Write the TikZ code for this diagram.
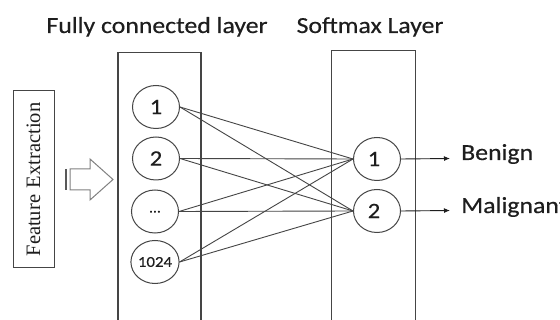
\documentclass[tikz,border=0pt]{standalone}
\usepackage{fontspec}
\setmainfont[FakeStretch=1.12,FakeBold=0.4]{Carlito}
\newfontfamily\serifface{Liberation Serif}
\usetikzlibrary{shapes.geometric,arrows.meta}
\definecolor{ink}{HTML}{1E1E1E}
\definecolor{linec}{HTML}{454545}
\tikzset{
  layerbox/.style={draw=linec, line width=1.2pt},
  neuron/.style={ellipse, draw=linec, line width=1pt, minimum width=47pt, minimum height=43pt, inner sep=0pt, text=ink, font=\fontsize{22}{24}\selectfont},
  smallneuron/.style={neuron, font=\fontsize{15}{17}\selectfont},
  link/.style={draw=linec, line width=0.9pt},
  outarrow/.style={draw=ink, line width=0.9pt, -{Latex[length=6pt,width=5pt]}},
  title/.style={anchor=base, text=ink, font=\fontsize{23}{25}\selectfont},
  label/.style={anchor=base west, text=ink, font=\fontsize{23}{25}\selectfont, inner sep=0pt},
}
\begin{document}
\begin{tikzpicture}[x=1pt,y=-1pt]
\useasboundingbox (0,0) rectangle (560,320);
\fill[white] (0,0) rectangle (560,320);
% titles
\node[title] (t1) at (157,33) {Fully connected layer};
\node[title] (t2) at (370,33) {Softmax Layer};
% layer boxes
\draw[layerbox] (118,330) -- (118,52.5) -- (201,52.5) -- (201,330);
\draw[layerbox] (331.5,330) -- (331.5,50.7) -- (415.5,50.7) -- (415.5,330);
% feature extraction
\node[draw=linec, line width=1pt, rotate=90, minimum width=177pt, minimum height=41pt, inner sep=0pt, text=ink, font=\serifface\fontsize{20.5}{22}\selectfont] (fe) at (33.5,179.5) {Feature\,\,Extraction};
% hollow arrow
\draw[draw=gray, line width=1pt, fill=white] (70,169) -- (90,169) -- (90,159) -- (113,179.5) -- (90,200) -- (90,190) -- (70,190) -- cycle;
\draw[draw=gray!70!black, line width=1.4pt] (66,169) -- (66,190);
% FC neurons
\node[neuron] (f1) at (156,107) {1};
\node[neuron] (f2) at (156,158.5) {2};
\node[neuron, font=\fontsize{14}{16}\selectfont] (f3) at (155,211.5) {\raisebox{-2pt}{...}};
\node[smallneuron] (f4) at (155,262) {1024};
% softmax neurons
\node[neuron] (s1) at (377,159) {\hspace*{-6pt}1};
\node[neuron] (s2) at (377,211) {\hspace*{-6pt}2};
% links
\foreach \a in {f1,f2,f3,f4}{
  \foreach \b in {s1,s2}{
    \draw[link] (\a.east) -- (\b.west);
  }
}
% outputs
\coordinate (o1) at (450,158.5);
\coordinate (o2) at (450,210.5);
\draw[outarrow] (s1.east) -- (o1);
\draw[outarrow] (s2.east) -- (o2);
\node[label] (l1) at (461,160) {Benign};
\node[label] (l2) at (461,213) {Malignant};
\end{tikzpicture}
\end{document}
